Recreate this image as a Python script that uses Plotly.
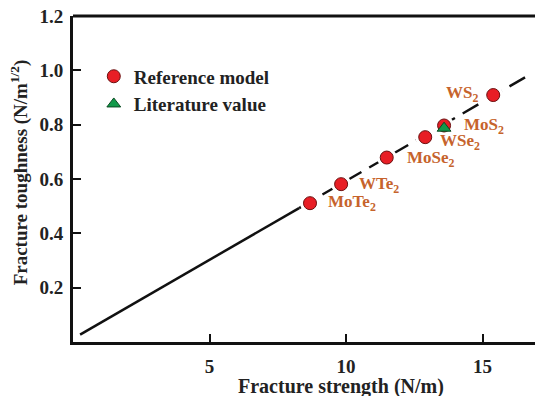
import plotly.graph_objects as go

materials = ["MoTe<sub>2</sub>", "WTe<sub>2</sub>", "MoSe<sub>2</sub>", "WSe<sub>2</sub>", "MoS<sub>2</sub>", "WS<sub>2</sub>"]
strength = [8.68, 9.82, 11.49, 12.90, 13.59, 15.39]
toughness = [0.511, 0.581, 0.679, 0.754, 0.797, 0.909]

lit_strength = [13.59]
lit_toughness = [0.787]

fit_solid_x = [0.26, 8.28]
fit_dash_x = [8.28, 16.56]
slope, intercept = 0.0581, 0.012

tick_x = [5, 10, 15]
tick_y = [0.2, 0.4, 0.6, 0.8, 1.0, 1.2]
tick_y_text = ["0.2", "0.4", "0.6", "0.8", "1.0", "1.2"]

x_title = "Fracture strength (N/m)"
y_title = "Fracture toughness (N/m<sup>1/2</sup>)"

FONT = "Liberation Serif"
LBL = "#C6632C"

def b(s):
    return "<b>" + s + "</b>"

fig = go.Figure()
fig.add_trace(go.Scatter(x=fit_solid_x, y=[slope * v + intercept for v in fit_solid_x],
                         mode="lines", line=dict(color="#111", width=2.5), showlegend=False))
fig.add_trace(go.Scatter(x=fit_dash_x, y=[slope * v + intercept for v in fit_dash_x],
                         mode="lines", line=dict(color="#111", width=2.5, dash="18px,9px"), showlegend=False))
fig.add_trace(go.Scatter(x=strength, y=toughness, mode="markers",
                         marker=dict(color="white", size=20, line=dict(width=0)), showlegend=False, hoverinfo="skip"))
fig.add_trace(go.Scatter(x=strength, y=toughness, mode="markers", name=b("Reference model"),
                         marker=dict(color="#E81E25", size=13, symbol="circle",
                                     line=dict(color="#6a1010", width=1))))
fig.add_trace(go.Scatter(x=lit_strength, y=lit_toughness, mode="markers", name=b("Literature value"),
                         marker=dict(color="#12994A", size=12, symbol="triangle-up",
                                     line=dict(color="#0b4a22", width=1))))

offsets = {
    "MoTe<sub>2</sub>": (16, 0, "left"),
    "WTe<sub>2</sub>": (16, -1, "left"),
    "MoSe<sub>2</sub>": (18, -1, "left"),
    "WSe<sub>2</sub>": (13, -5, "left"),
    "MoS<sub>2</sub>": (18, -1, "left"),
    "WS<sub>2</sub>": (-13, 1, "right"),
}
for m, xv, yv in zip(materials, strength, toughness):
    dx, dy, anc = offsets[m]
    fig.add_annotation(x=xv, y=yv, text=b(m), showarrow=False, xanchor=anc, yanchor="middle",
                       xshift=dx, yshift=dy,
                       font=dict(family=FONT, size=17, color=LBL))

# axis titles (positioned as in the reference)
fig.add_annotation(xref="paper", yref="paper", x=0.58, y=-0.135, text=b(x_title),
                   showarrow=False, xanchor="center", yanchor="middle",
                   font=dict(family=FONT, size=20, color="#222"))
fig.add_annotation(xref="paper", yref="paper", x=-0.115, y=0.52, text=b(y_title),
                   showarrow=False, xanchor="center", yanchor="middle", textangle=-90,
                   font=dict(family=FONT, size=19, color="#222"))

fig.update_layout(
    width=535, height=396,
    margin=dict(l=73, r=0, t=16, b=54),
    plot_bgcolor="white", paper_bgcolor="white",
    font=dict(family=FONT, color="#222"),
    legend=dict(x=0.045, y=0.873, xanchor="left", yanchor="top",
                font=dict(family=FONT, size=19, color="#222"),
                bgcolor="rgba(0,0,0,0)", itemwidth=30, tracegroupgap=0),
    xaxis=dict(range=[0, 16.92], tickvals=tick_x, ticktext=[b(str(v)) for v in tick_x],
               ticks="inside", ticklen=8, tickwidth=2, ticklabelstandoff=5,
               tickcolor="#111", showline=True, linecolor="#111", linewidth=3, mirror=False,
               showgrid=False, zeroline=False,
               tickfont=dict(family=FONT, size=19, color="#222")),
    yaxis=dict(range=[0, 1.2], tickvals=tick_y, ticktext=[b(t) for t in tick_y_text],
               ticks="inside", ticklen=8, tickwidth=2, ticklabelstandoff=3,
               tickcolor="#111", showline=True, linecolor="#111", linewidth=3,
               showgrid=False, zeroline=False,
               tickfont=dict(family=FONT, size=19, color="#222")),
)
fig.add_shape(type="line", xref="paper", yref="paper", x0=0, x1=1, y0=1, y1=1,
              line=dict(color="#111", width=3))
fig.write_html("out.html")
